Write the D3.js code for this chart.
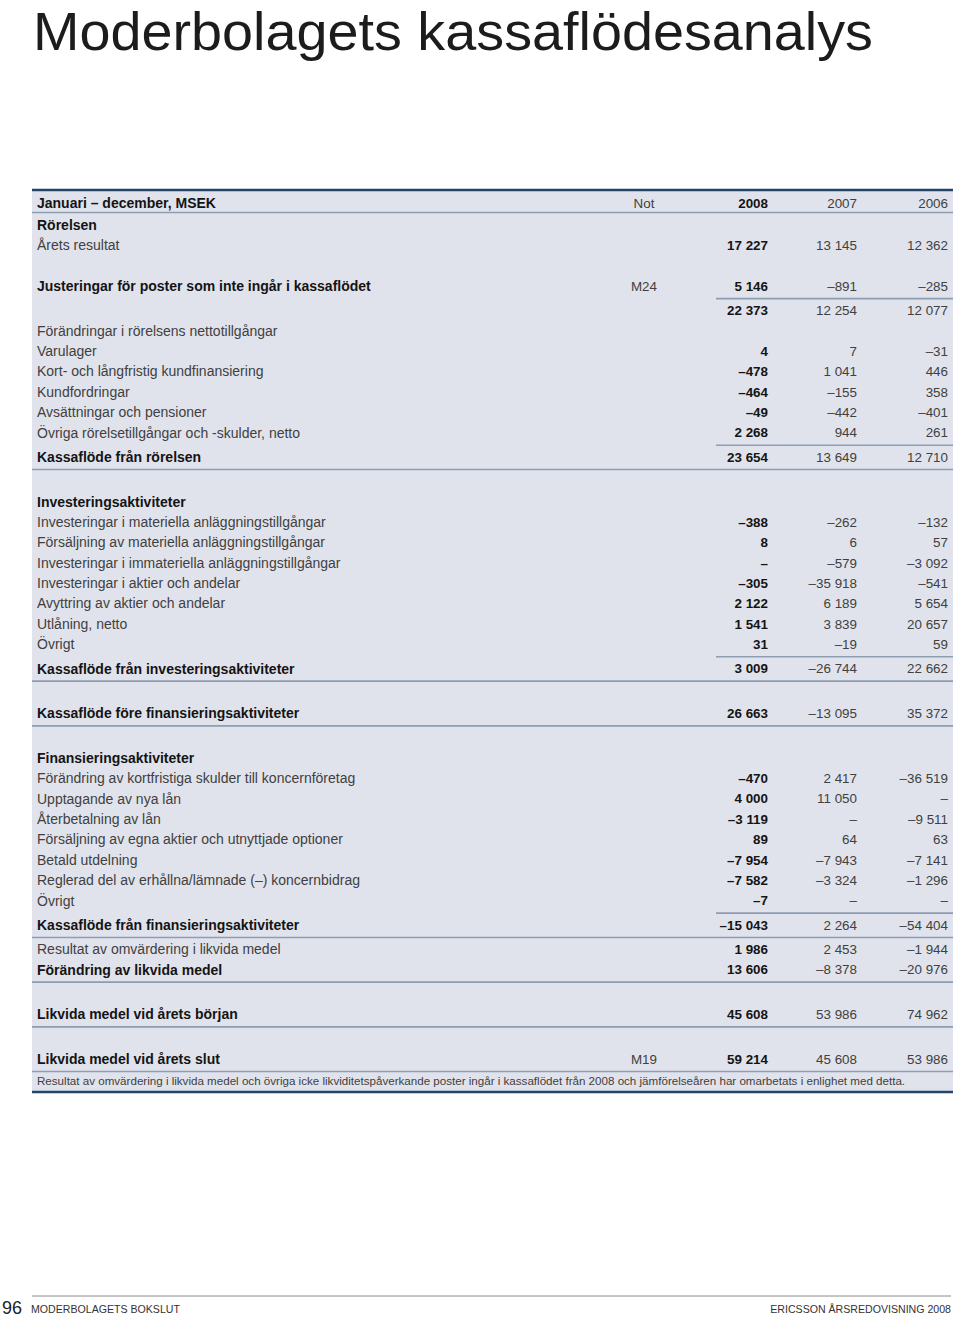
<!DOCTYPE html>
<html>
<head>
<meta charset="utf-8">
<script src="https://cdn.jsdelivr.net/npm/d3@7/dist/d3.min.js"></script>
<style>
	body { margin: 0; background: #fff; }
	text { font-family: "Liberation Sans", Arial, sans-serif; }
</style>
</head>
<body>
<svg id="page" width="960" height="1317"></svg>
<script>
const title = "Moderbolagets kassaflödesanalys"
const headerLabel = "Januari – december, MSEK"
const columns = ["Not", "2008", "2007", "2006"]

const rowLabels = [
	"Rörelsen",
	"Årets resultat",
	"Justeringar för poster som inte ingår i kassaflödet",
	"",
	"Förändringar i rörelsens nettotillgångar",
	"Varulager",
	"Kort- och långfristig kundfinansiering",
	"Kundfordringar",
	"Avsättningar och pensioner",
	"Övriga rörelsetillgångar och -skulder, netto",
	"Kassaflöde från rörelsen",
	"Investeringsaktiviteter",
	"Investeringar i materiella anläggningstillgångar",
	"Försäljning av materiella anläggningstillgångar",
	"Investeringar i immateriella anläggningstillgångar",
	"Investeringar i aktier och andelar",
	"Avyttring av aktier och andelar",
	"Utlåning, netto",
	"Övrigt",
	"Kassaflöde från investeringsaktiviteter",
	"Kassaflöde före finansieringsaktiviteter",
	"Finansieringsaktiviteter",
	"Förändring av kortfristiga skulder till koncernföretag",
	"Upptagande av nya lån",
	"Återbetalning av lån",
	"Försäljning av egna aktier och utnyttjade optioner",
	"Betald utdelning",
	"Reglerad del av erhållna/lämnade (–) koncernbidrag",
	"Övrigt",
	"Kassaflöde från finansieringsaktiviteter",
	"Resultat av omvärdering i likvida medel",
	"Förändring av likvida medel",
	"Likvida medel vid årets början",
	"Likvida medel vid årets slut",
]

const notes = {2: "M24", 33: "M19"}

// undefined = no value on that row, null = "–"
const values2008 = [
	undefined, 17227, 5146, 22373, undefined, 4, -478, -464, -49, 2268, 23654,
	undefined, -388, 8, null, -305, 2122, 1541, 31, 3009, 26663,
	undefined, -470, 4000, -3119, 89, -7954, -7582, -7, -15043,
	1986, 13606, 45608, 59214,
]
const values2007 = [
	undefined, 13145, -891, 12254, undefined, 7, 1041, -155, -442, 944, 13649,
	undefined, -262, 6, -579, -35918, 6189, 3839, -19, -26744, -13095,
	undefined, 2417, 11050, null, 64, -7943, -3324, null, 2264,
	2453, -8378, 53986, 45608,
]
const values2006 = [
	undefined, 12362, -285, 12077, undefined, -31, 446, 358, -401, 261, 12710,
	undefined, -132, 57, -3092, -541, 5654, 20657, 59, 22662, 35372,
	undefined, -36519, null, -9511, 63, -7141, -1296, null, -54404,
	-1944, -20976, 74962, 53986,
]

const boldRows = [0, 2, 10, 11, 19, 20, 21, 29, 31, 32, 33]
const partRuleAbove = [3, 10, 19, 29]
const fullRuleAbove = [11, 20, 21, 30, 32, 33]
const gapAbove = [2, 11, 20, 21, 32, 33]

const footnote = "Resultat av omvärdering i likvida medel och övriga icke likviditetspåverkande poster ingår i kassaflödet från 2008 och jämförelseåren har omarbetats i enlighet med detta."
const footer = {page: "96", section: "MODERBOLAGETS BOKSLUT", report: "ERICSSON ÅRSREDOVISNING 2008"}

const config = {
	left: 32,
	right: 953,
	top: 190,
	labelX: 37,
	firstRow: 225,
	step: 20.375,
	ruleExtra: 3.94,
	labelSize: 14,
	valueSize: 13.4,
	colours: {
		box: "#e1e3ec",
		border: "#23456a",
		rule: "#8d9db2",
		text: "#404040",
		bold: "#141414",
	},
}

const locale = d3.formatLocale({
	decimal: ",",
	thousands: "\u00a0",
	grouping: [3],
	currency: ["", ""],
	minus: "–",
})
const fmt = locale.format(",d")
const fmtValue = v => v === null ? "–" : fmt(v)

// Work out each row's vertical slot, in px from the first row
let slots = []
let offset = 0
rowLabels.forEach((_, i) => {
	if (i > 0) offset += config.step
	if (gapAbove.includes(i)) offset += config.step
	if (partRuleAbove.includes(i) || fullRuleAbove.includes(i)) offset += config.ruleExtra
	slots.push(offset)
})

const y = d3.scaleLinear()
	.domain([0, 1])
	.range([config.firstRow, config.firstRow + 1])

const x = d3.scaleOrdinal()
	.domain(columns)
	.range([644, 768, 857, 948])

const anchor = c => c === "Not" ? "middle" : "end"

const svg = d3.select("#page")

// Title
svg.append("text")
	.attr("x", 33)
	.attr("y", 50)
	.attr("textLength", 840)
	.attr("lengthAdjust", "spacingAndGlyphs")
	.style("font-size", "53px")
	.attr("fill", "#1c1c1c")
	.text(title)

const lastY = y(slots[slots.length - 1])
const footY = lastY + 22
const bottom = footY + 11

// Box
svg.append("rect")
	.attr("x", config.left)
	.attr("y", config.top)
	.attr("width", config.right - config.left)
	.attr("height", bottom - config.top)
	.attr("fill", config.colours.box)

// Header
const header = svg.append("g").attr("class", "header")
header.append("text")
	.attr("x", config.labelX)
	.attr("y", 203)
	.attr("dy", "0.35em")
	.attr("fill", config.colours.bold)
	.style("font-weight", "bold")
	.style("font-size", `${config.labelSize}px`)
	.text(headerLabel)
header.selectAll("text.col")
	.data(columns)
	.join("text")
	.attr("class", "col")
	.attr("x", x)
	.attr("y", 203)
	.attr("dy", "0.35em")
	.attr("text-anchor", anchor)
	.attr("fill", c => c === "2008" ? config.colours.bold : config.colours.text)
	.style("font-weight", c => c === "2008" ? "bold" : "normal")
	.style("font-size", `${config.valueSize}px`)
	.text(c => c)

// Rules
const rules = []
rules.push({x1: config.left, y: 212.5})
rowLabels.forEach((_, i) => {
	const ry = y(slots[i - 1]) + 12.5
	if (partRuleAbove.includes(i)) rules.push({x1: 716, y: ry})
	if (fullRuleAbove.includes(i)) rules.push({x1: config.left, y: ry})
})
rules.push({x1: config.left, y: lastY + 12.5})

svg.append("g")
	.attr("class", "rules")
	.selectAll("line")
	.data(rules)
	.join("line")
	.attr("x1", d => d.x1)
	.attr("x2", config.right)
	.attr("y1", d => d.y)
	.attr("y2", d => d.y)
	.attr("stroke", config.colours.rule)
	.attr("stroke-width", 1.6)

svg.selectAll("line.border")
	.data([config.top, bottom])
	.join("line")
	.attr("class", "border")
	.attr("x1", config.left)
	.attr("x2", config.right)
	.attr("y1", d => d)
	.attr("y2", d => d)
	.attr("stroke", config.colours.border)
	.attr("stroke-width", 2.5)

// Rows
const rows = svg.append("g")
	.attr("class", "rows")
	.selectAll("g.row")
	.data(rowLabels.map((label, i) => ({
		label,
		bold: boldRows.includes(i),
		cells: [
			{col: "Not", text: notes[i] || ""},
			{col: "2008", text: values2008[i] === undefined ? "" : fmtValue(values2008[i]), bold: true},
			{col: "2007", text: values2007[i] === undefined ? "" : fmtValue(values2007[i])},
			{col: "2006", text: values2006[i] === undefined ? "" : fmtValue(values2006[i])},
		],
		y: y(slots[i]),
	})))
	.join("g")
	.attr("class", "row")
	.attr("transform", d => `translate(0, ${d.y})`)

rows.append("text")
	.attr("x", config.labelX)
	.attr("dy", "0.35em")
	.attr("fill", d => d.bold ? config.colours.bold : config.colours.text)
	.style("font-weight", d => d.bold ? "bold" : "normal")
	.style("font-size", `${config.labelSize}px`)
	.text(d => d.label)

rows.selectAll("text.cell")
	.data(d => d.cells)
	.join("text")
	.attr("class", "cell")
	.attr("x", c => x(c.col))
	.attr("dy", "0.35em")
	.attr("text-anchor", c => anchor(c.col))
	.attr("fill", c => c.bold ? config.colours.bold : config.colours.text)
	.style("font-weight", c => c.bold ? "bold" : "normal")
	.style("font-size", `${config.valueSize}px`)
	.text(c => c.text)

// Footnote
svg.append("text")
	.attr("x", config.labelX)
	.attr("y", footY)
	.attr("dy", "0.35em")
	.attr("fill", config.colours.text)
	.style("font-size", "11.6px")
	.text(footnote)

// Page footer
svg.append("line")
	.attr("x1", 32)
	.attr("x2", 951)
	.attr("y1", 1296)
	.attr("y2", 1296)
	.attr("stroke", "#8a8a8a")
	.attr("stroke-width", 1)
svg.append("text")
	.attr("x", 2)
	.attr("y", 1307.5)
	.attr("dy", "0.35em")
	.attr("fill", "#222")
	.style("font-size", "18px")
	.text(footer.page)
svg.append("text")
	.attr("x", 31)
	.attr("y", 1309)
	.attr("dy", "0.35em")
	.attr("fill", "#333")
	.style("font-size", "10.6px")
	.text(footer.section)
svg.append("text")
	.attr("x", 951)
	.attr("y", 1309)
	.attr("dy", "0.35em")
	.attr("text-anchor", "end")
	.attr("fill", "#333")
	.style("font-size", "10.6px")
	.text(footer.report)
</script>
</body>
</html>
